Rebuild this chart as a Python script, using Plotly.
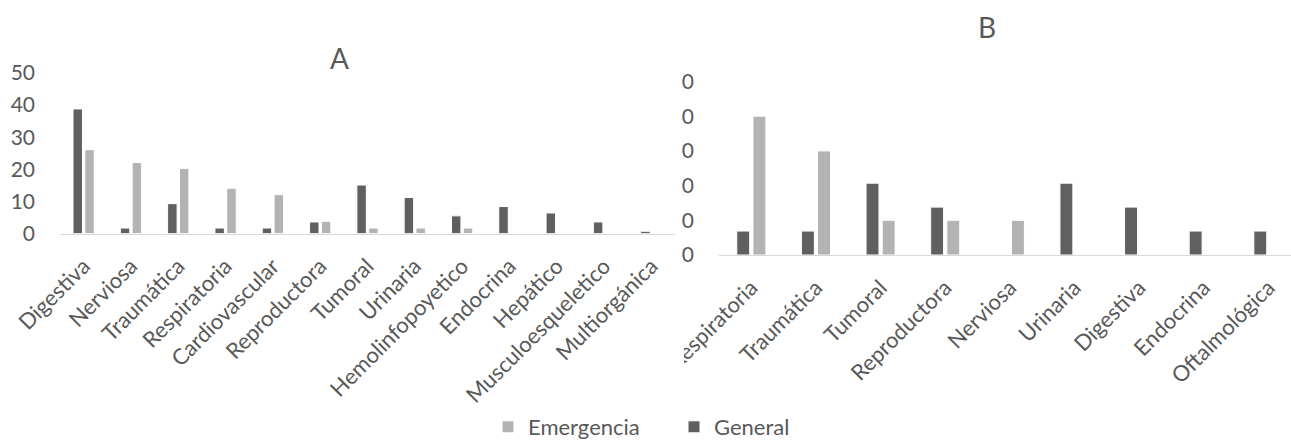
import plotly.graph_objects as go

# Panel A: all admissions by body system (%)
cats_a = ["Digestiva", "Nerviosa", "Traumática", "Respiratoria", "Cardiovascular",
          "Reproductora", "Tumoral", "Urinaria", "Hemolinfopoyetico", "Endocrina",
          "Hepático", "Musculoesqueletico", "Multiorgánica"]
general_a = [38.8, 1.7, 9.3, 1.7, 1.7, 3.6, 15.1, 11.2, 5.5, 8.4, 6.4, 3.6, 0.7]
emergencia_a = [26.1, 22.1, 20.3, 14.1, 12.1, 3.8, 1.7, 1.7, 1.7, 0, 0, 0, 0]

# Panel B (%)
cats_b = ["Respiratoria", "Traumática", "Tumoral", "Reproductora", "Nerviosa",
          "Urinaria", "Digestiva", "Endocrina", "Oftalmológica"]
general_b = [6.9, 6.9, 20.7, 13.8, 0, 20.7, 13.8, 6.9, 6.9]
emergencia_b = [40, 30, 10, 10, 10, 0, 0, 0, 0]

y_ticks = [0, 10, 20, 30, 40, 50]

W, H = 1291, 440
DARK = "#606060"
LIGHT = "#b3b3b3"
TXT = "#595959"
AXIS = "#d9d9d9"
FONT = "Lato"


def px_x(p):
    return p / W


def px_y(p):
    return (H - p) / H


fig = go.Figure()

fig.add_trace(go.Bar(x=cats_a, y=general_a, name="General", marker_color=DARK,
                     marker_line=dict(color="white", width=1), xaxis="x", yaxis="y",
                     legendgroup="g", showlegend=True))
fig.add_trace(go.Bar(x=cats_a, y=emergencia_a, name="Emergencia", marker_color=LIGHT,
                     marker_line=dict(color="white", width=1), xaxis="x", yaxis="y",
                     legendgroup="e", showlegend=True))
fig.add_trace(go.Bar(x=cats_b, y=general_b, name="General", marker_color=DARK,
                     marker_line=dict(color="white", width=1), xaxis="x2", yaxis="y2",
                     legendgroup="g", showlegend=False))
fig.add_trace(go.Bar(x=cats_b, y=emergencia_b, name="Emergencia", marker_color=LIGHT,
                     marker_line=dict(color="white", width=1), xaxis="x2", yaxis="y2",
                     legendgroup="e", showlegend=False))

xcommon = dict(type="category", showline=True, linecolor=AXIS, linewidth=1.3,
               ticks="", tickangle=-45, showgrid=False, zeroline=False,
               automargin=False, ticklabelstandoff=10,
               tickfont=dict(family=FONT, size=22, color=TXT))
ycommon = dict(range=[0, 50], tickvals=y_ticks, showgrid=False, zeroline=False,
               showline=False, ticks="", ticklabelstandoff=24, automargin=False,
               tickfont=dict(family=FONT, size=21, color=TXT))

fig.update_layout(
    width=W, height=H,
    margin=dict(l=0, r=0, t=0, b=0, autoexpand=False),
    paper_bgcolor="white", plot_bgcolor="white",
    barmode="group", bargap=0.5, bargroupgap=0.2,
    xaxis=dict(domain=[px_x(60), px_x(675)], anchor="y", **xcommon),
    yaxis=dict(domain=[px_y(233.5), px_y(73)], anchor="x", **ycommon),
    xaxis2=dict(domain=[px_x(719), 1.0], anchor="y2", range=[-0.5, 8.35], **xcommon),
    yaxis2=dict(domain=[px_y(255), px_y(81.5)], anchor="x2", **ycommon),
    legend=dict(orientation="h", x=px_x(488), y=px_y(427), xanchor="left", yanchor="middle",
                traceorder="reversed", entrywidth=141, entrywidthmode="pixels",
                font=dict(family=FONT, size=22, color=TXT), bgcolor="rgba(0,0,0,0)"),
    annotations=[
        dict(text="A", x=px_x(339), y=px_y(58), xref="paper", yref="paper",
             xanchor="center", yanchor="middle",
             showarrow=False, font=dict(family=FONT, size=28, color=TXT)),
        dict(text="B", x=px_x(987), y=px_y(27), xref="paper", yref="paper",
             xanchor="center", yanchor="middle",
             showarrow=False, font=dict(family=FONT, size=28, color=TXT)),
    ],
    shapes=[
        # trim the left edge of panel B
        dict(type="rect", xref="paper", yref="paper", layer="above",
             x0=px_x(662), x1=px_x(681.5), y0=px_y(230), y1=px_y(60),
             fillcolor="white", line=dict(width=0)),
        dict(type="rect", xref="paper", yref="paper", layer="above",
             x0=px_x(662), x1=px_x(684), y0=px_y(440), y1=px_y(262),
             fillcolor="white", line=dict(width=0)),
    ],
)

fig.write_html("out.html")
